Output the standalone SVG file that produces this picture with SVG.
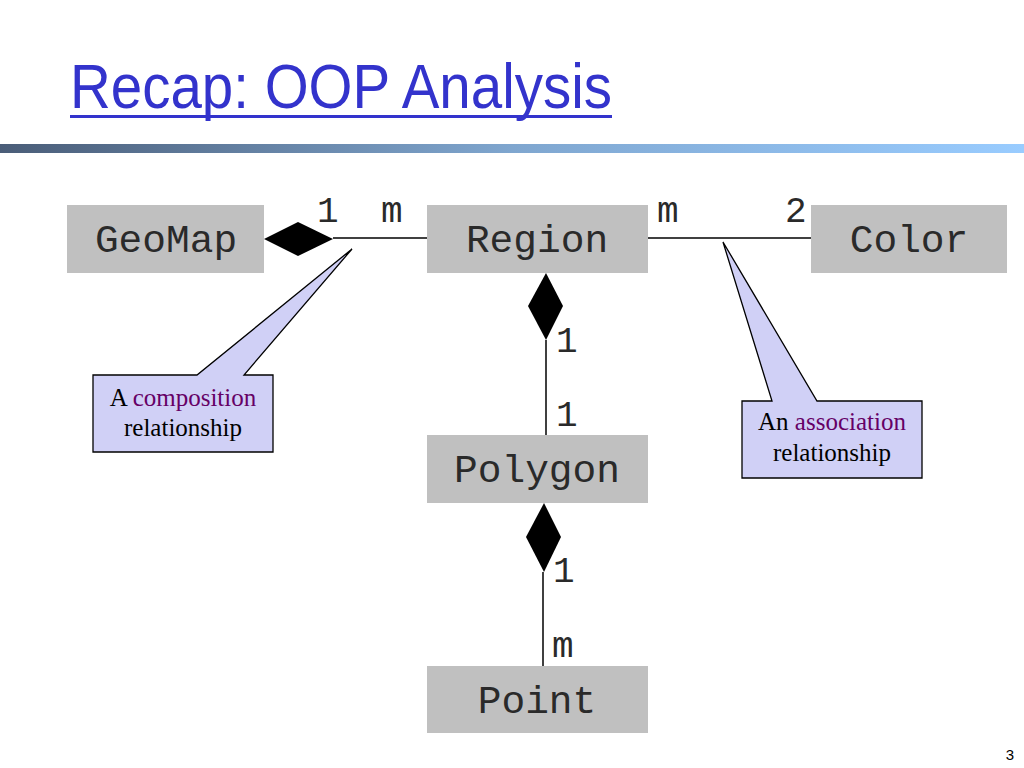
<svg xmlns="http://www.w3.org/2000/svg" width="1024" height="768" viewBox="0 0 1024 768">
<defs>
<linearGradient id="bar" x1="0" y1="0" x2="1" y2="0">
<stop offset="0" stop-color="#4a5d78"/>
<stop offset="0.5" stop-color="#7fa6cf"/>
<stop offset="1" stop-color="#99ccff"/>
</linearGradient>
<style>
.node{fill:#c0c0c0;}
.nt{font-family:"Liberation Mono","DejaVu Sans Mono",monospace;font-size:39.5px;fill:#2a2a2a;text-anchor:middle;}
.ml{font-family:"Liberation Mono","DejaVu Sans Mono",monospace;font-size:36px;fill:#2a2a2a;}
.ln{stroke:#000;stroke-width:1.5;fill:none;}
.dia{fill:#000;}
.call{fill:#d0d0f6;stroke:#000;stroke-width:1.3;}
.ct{font-family:"Liberation Serif","Times New Roman",serif;font-size:25px;fill:#000;text-anchor:middle;}
.hl{fill:#660066;}
</style>
</defs>
<rect width="1024" height="768" fill="#fff"/>
<text x="70" y="108" font-family="'Comic Sans MS','Liberation Sans',sans-serif" font-size="63" fill="#3333cc" textLength="542" lengthAdjust="spacingAndGlyphs">Recap: OOP Analysis</text>
<rect x="70" y="115" width="542" height="3" fill="#3333cc"/>
<rect x="0" y="144" width="1024" height="9" fill="url(#bar)"/>

<g id="connectors">
<line class="ln" x1="333" y1="238" x2="427" y2="238"/>
<polygon class="dia" points="264,239 298,222 333,239 298,256"/>
<line class="ln" x1="648" y1="238" x2="811" y2="238"/>
<line class="ln" x1="546" y1="340" x2="546" y2="435"/>
<polygon class="dia" points="546,273 563,306 546,340 528,306"/>
<line class="ln" x1="543" y1="572" x2="543" y2="666"/>
<polygon class="dia" points="544,503 561,537 544,572 526,537"/>
<text class="ml" x="317" y="222">1</text>
<text class="ml" x="381" y="222">m</text>
<text class="ml" x="657" y="222">m</text>
<text class="ml" x="785" y="222">2</text>
<text class="ml" x="556" y="352">1</text>
<text class="ml" x="556" y="426">1</text>
<text class="ml" x="553" y="582">1</text>
<text class="ml" x="552" y="657">m</text>
</g>

<g id="GeoMap"><rect class="node" x="67" y="205" width="197" height="68"/><text class="nt" x="166" y="252">GeoMap</text></g>
<g id="Region"><rect class="node" x="427" y="205" width="221" height="68"/><text class="nt" x="537" y="252">Region</text></g>
<g id="Color"><rect class="node" x="811" y="205" width="196" height="68"/><text class="nt" x="909" y="252">Color</text></g>
<g id="Polygon"><rect class="node" x="427" y="435" width="221" height="68"/><text class="nt" x="537" y="482">Polygon</text></g>
<g id="Point"><rect class="node" x="427" y="666" width="221" height="67"/><text class="nt" x="537" y="713">Point</text></g>

<g id="callout-composition">
<path class="call" d="M93,375 H197 L352,249 L244,375 H273 V452 H93 Z"/>
<text class="ct" x="183" y="406">A <tspan class="hl">composition</tspan></text>
<text class="ct" x="183" y="436">relationship</text>
</g>
<g id="callout-association">
<path class="call" d="M742,401 H772 L723,242 L817,401 H922 V478 H742 Z"/>
<text class="ct" x="832" y="430">An <tspan class="hl">association</tspan></text>
<text class="ct" x="832" y="461">relationship</text>
</g>

<text x="1014" y="760" font-family="'Liberation Sans',sans-serif" font-size="15" fill="#000" text-anchor="end">3</text>
</svg>
